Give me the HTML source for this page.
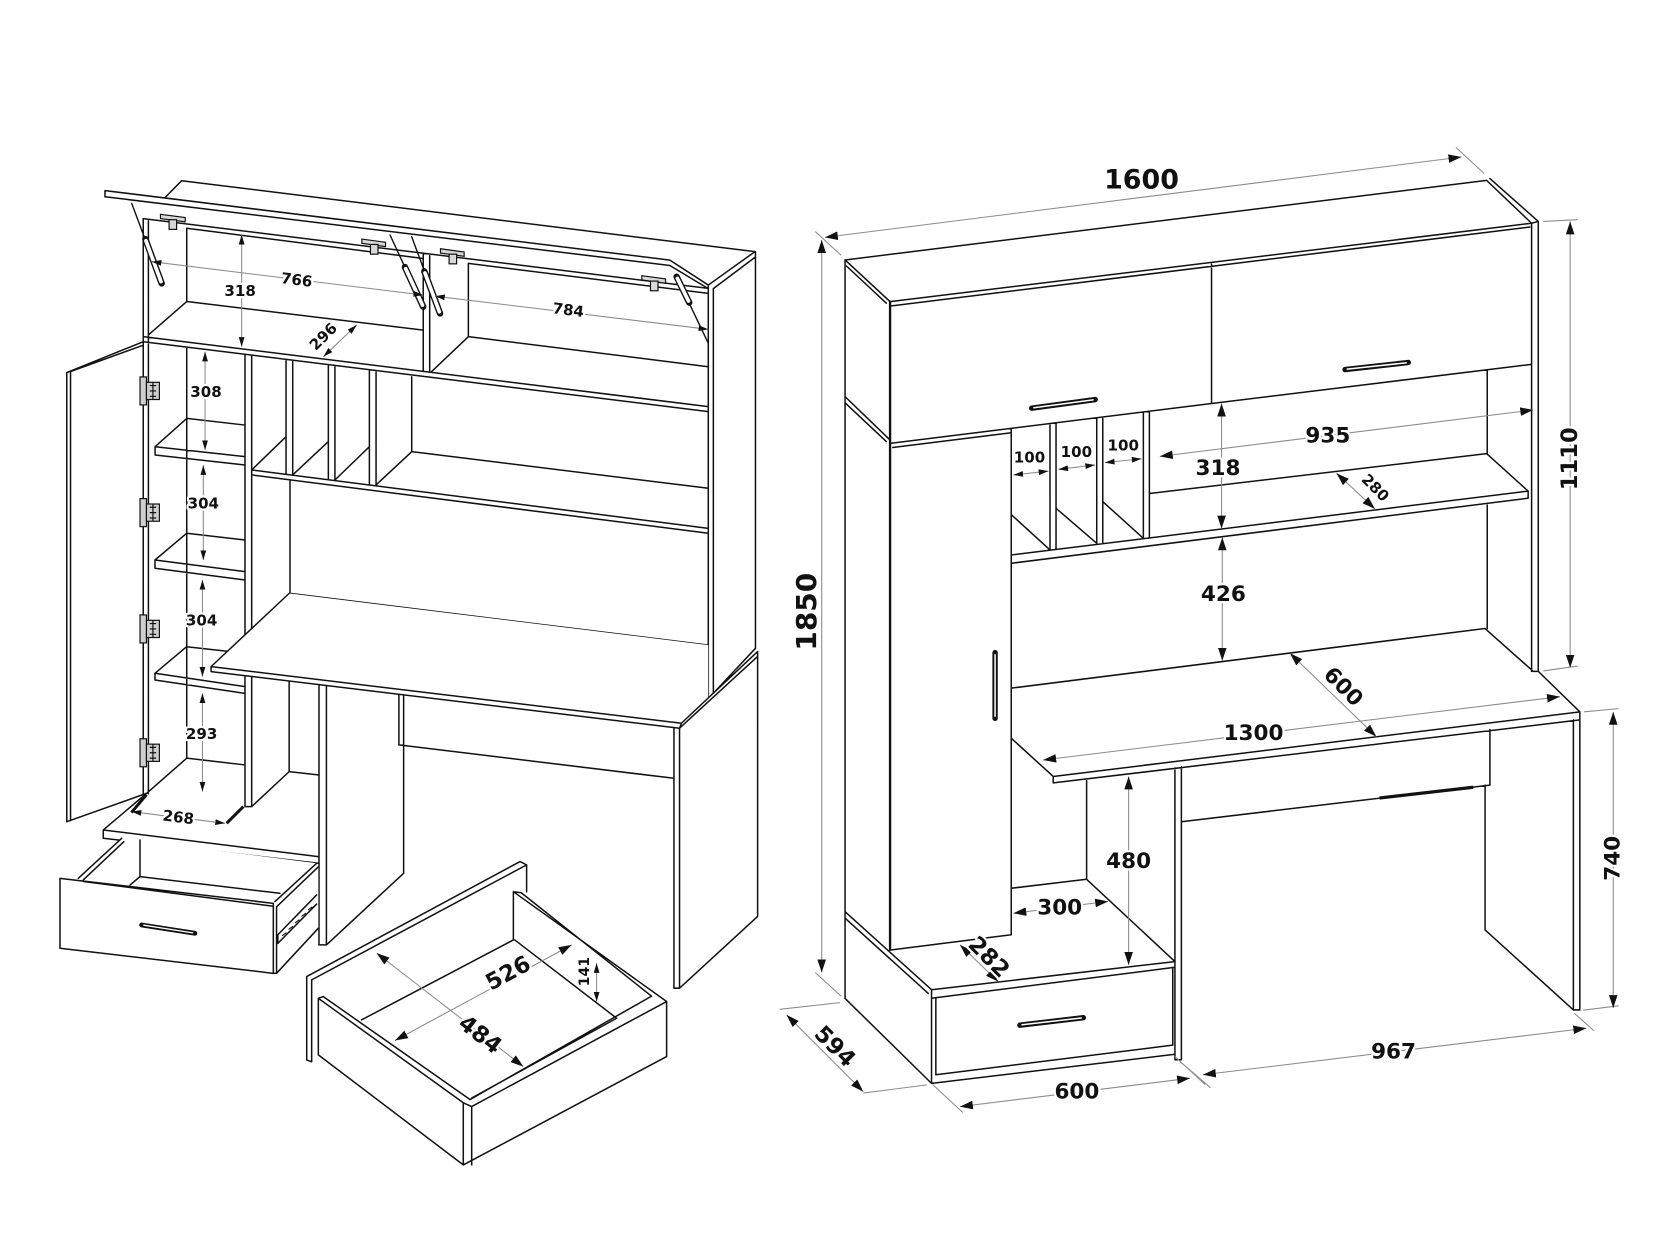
<!DOCTYPE html>
<html>
<head>
<meta charset="utf-8">
<style>
html,body{margin:0;padding:0;background:#fff;}
svg{display:block;}
.k{stroke:#111;stroke-width:1.4;fill:none;stroke-linecap:round;stroke-linejoin:round;}
.k2{stroke:#111;stroke-width:2.2;fill:none;stroke-linecap:round;}
.d{stroke:#8c8c8c;stroke-width:1;fill:none;}
.ds{stroke:#8c8c8c;stroke-width:1;fill:none;}
.t{font-family:"DejaVu Sans","Liberation Sans",sans-serif;font-weight:bold;fill:#111;text-anchor:middle;dominant-baseline:central;stroke:#fff;stroke-width:4;paint-order:stroke;stroke-linejoin:round;}
</style>
</head>
<body>
<svg width="1680" height="1260" viewBox="0 0 1560 1170" xmlns="http://www.w3.org/2000/svg">
<defs>
<marker id="a" viewBox="0 0 12 8" refX="12" refY="4" markerWidth="12" markerHeight="8" markerUnits="userSpaceOnUse" orient="auto-start-reverse"><path d="M0,0L12,4L0,8z" fill="#111"/></marker>
<marker id="b" viewBox="0 0 10 6" refX="10" refY="3" markerWidth="9" markerHeight="6" markerUnits="userSpaceOnUse" orient="auto-start-reverse"><path d="M0,0L10,3L0,6z" fill="#111"/></marker>
</defs>
<rect width="1560" height="1170" fill="#fff"/>

<!-- ================= RIGHT DRAWING ================= -->
<g class="k">
<path d="M784.7,241.4 L1380.4,167.5 M784.7,241.4 L826.5,280.1 M786,247 L823,281.5
M1380.4,167.5 L1422.2,207.3 M1383.5,165.8 L1428.4,205.6
M826.5,280.1 L1422.2,207.3 M828,284 L1420.6,210.8 M1422.2,207.3 L1428.4,205.6
M784.7,241.4 L784.7,927
M784.7,368.3 L826.5,408.6 M784.7,374 L823,410
M826.5,411.7 L1125,374.7 L1422.2,338.3 M829,415.5 L939,401.8
M1125,243.8 L1125,374.7
M1422.2,207.3 L1422.2,623.4 M1428.4,205.6 L1428.4,623.4 M1422.2,623.4 L1428.4,623.4
M939,397.8 L939,868 M828,882 L939,868
M975,393.3 L975,510.7 M980.6,392.6 L980.6,510
M1018.4,388 L1018.4,505.4 M1024,387.3 L1024,504.7
M1061.7,382.6 L1061.7,499.9 M1067.3,381.9 L1067.3,499.2
M939.4,478.2 L975,510.7 M980.6,472 L1018.4,504.5 M1024,465.8 L1061.7,499.9
M939.4,515.3 L1419,456 M939.4,523 L1419,462.6 M1419,456 L1419,462.6
M1067.3,458.3 L1380.4,421.2 L1419,456
M1381,343.3 L1381,421.2 M1381,467.3 L1381,583.6
M939,639 L1378.9,583.6 L1423.7,623.4
M939,685.5 L978,721 M978,721 L978,727 M978,721 L1467,661 M978,727 L1467,668.5 M1467,661 L1467,668.5 M1428.4,623.4 L1467,661
M1091,713 L1091,984 M1097,712 L1097,984 M1091,984 L1097,984
M1097,763 L1383.5,729 M1383.5,677.4 L1383.5,729 M1379,729 L1379,863.5 L1461,937.8
M1461,668.5 L1461,937.8 M1467,668.5 L1467,937.8 M1461,937.8 L1467,937.8
M1009,723 L1009,816.5 L939,824.8 M1009,816.5 L1091,892.9
M784.6,846.5 L865,919 M784.6,852.5 L862,922.5
M865,919 L1091,892.9 M865,927 L1091,898.2
M865,919 L865,1006 M869,927 L869,998
M869,998 L1089,970.5 M1089,898.5 L1089,970.5
M865,1006 L1091,979 M784.6,927 L865,1006"/>
</g>
<path class="k2" d="M826.5,280.1 L826.5,882"/>
<path d="M1281,741 L1368,731" stroke="#111" stroke-width="3" fill="none"/>
<!-- handles -->
<g stroke-linecap="round">
<line x1="958" y1="379" x2="1017" y2="371" stroke="#111" stroke-width="5"/><line x1="960" y1="378.6" x2="1015" y2="371.3" stroke="#fff" stroke-width="1.4"/>
<line x1="1249" y1="343.2" x2="1307.7" y2="336.6" stroke="#111" stroke-width="5"/><line x1="1251" y1="342.8" x2="1305.7" y2="336.9" stroke="#fff" stroke-width="1.4"/>
<line x1="947" y1="952" x2="1006" y2="945" stroke="#111" stroke-width="5"/><line x1="949" y1="951.6" x2="1004" y2="945.3" stroke="#fff" stroke-width="1.4"/>
<line x1="924" y1="606" x2="924" y2="667" stroke="#111" stroke-width="5"/><line x1="924" y1="608" x2="924" y2="665" stroke="#fff" stroke-width="1.4"/>
</g>

<!-- right dimensions -->
<g class="d">
<path d="M757,215 L781,237 M1352,137 L1378,161 M757,903 L781,925
M1433,205.6 L1465,204 M1433,623 L1465,618.5
M1471,661 L1503,658 M1470,938 L1503,934
M1462,941 L1480,957 M1096,986 L1124,1010
M866,1007 L894,1033 M1091,981 L1119,1007
M780,931 L724,937.2 M801.6,1015 L860.5,1007.4"/>
</g>
<g class="d" marker-start="url(#a)" marker-end="url(#a)">
<path d="M766,220.4 L1357,145.8"/>
<path d="M763,222.9 L763,903"/>
<path d="M1458,205.6 L1458,620"/>
<path d="M1498,661 L1498,936"/>
<path d="M1117,998 L1473,954.8"/>
<path d="M891.4,1027.6 L1105,1001.2"/>
<path d="M730.4,942.4 L801.6,1013.6"/>
<path d="M891.4,877.4 L927,911.5"/>
<path d="M941,848 L1029,837"/>
<path d="M1048,721 L1048,896"/>
<path d="M968.7,705.7 L1448.5,646.9"/>
<path d="M1197.8,606.6 L1278,684"/>
<path d="M1135,499 L1135,613.5"/>
<path d="M1134.3,374.7 L1134.3,490.8"/>
<path d="M1077,423.8 L1423.7,380.7"/>
<path d="M1241,439.4 L1276.7,472.5"/>
</g>
<g class="d" marker-start="url(#b)" marker-end="url(#b)">
<path d="M941,441 L973.5,437.5"/>
<path d="M982.8,435.8 L1016.8,431.8"/>
<path d="M1026,429.6 L1060,426"/>
</g>
<g class="t">
<text x="1060" y="167" font-size="25">1600</text>
<text x="749" y="568" font-size="26" transform="rotate(-90 749 568)">1850</text>
<text x="1458" y="426" font-size="21" transform="rotate(-90 1458 426)">1110</text>
<text x="1498" y="797" font-size="20" transform="rotate(-90 1498 797)">740</text>
<text x="1294" y="977" font-size="20">967</text>
<text x="1000" y="1014" font-size="20">600</text>
<text x="775" y="972" font-size="21" transform="rotate(45 775 972)">594</text>
<text x="918" y="889" font-size="21" transform="rotate(45 918 889)">282</text>
<text x="984" y="843" font-size="20">300</text>
<text x="1048" y="800" font-size="20">480</text>
<text x="1164" y="681" font-size="20">1300</text>
<text x="1247" y="638" font-size="20" transform="rotate(45 1247 638)">600</text>
<text x="1136" y="552" font-size="20">426</text>
<text x="1131" y="435" font-size="20">318</text>
<text x="1233" y="405" font-size="20">935</text>
<text x="1277" y="453" font-size="14" transform="rotate(45 1277 453)">280</text>
<text x="956" y="425" font-size="14">100</text>
<text x="999.5" y="419.5" font-size="14">100</text>
<text x="1043" y="413.5" font-size="14">100</text>
</g>

<!-- ================= LEFT DRAWING ================= -->
<g class="k">
<path d="M168.7,167.8 L701,233.7 M168.7,167.8 L153.2,183.5
M97.5,177 L622,241.5 L657.7,264.7 M97.5,182.7 L622,246.5 L657.7,268 M97.5,177 L97.5,182.7
M701,233.7 L657.7,264.7 M701,239 L662.4,268
M701.5,233.7 L701.5,602
M657.7,264.7 L657.7,648 M662.4,268 L662.4,643.7
M133,203 L657.7,267.8
M133,203 L133,737 M137.8,205 L137.8,737
M173.4,212 L173.4,280 M173.4,212 L393,240 M434.9,244.6 L657.7,272.4
M173.4,280 L393,306.5 M434.9,312.6 L657.7,340.5
M173.4,280 L137.8,311 M434.9,312.6 L400.8,345
M434.9,244.6 L434.9,312.6
M393,235 L393,345 M399,235.7 L399,345.5
M133,312.6 L657.7,377.6 M133,317.3 L657.7,382.2
M227.5,329.7 L227.5,749 M233.7,330.5 L233.7,749 M227.5,749 L233.7,749
M265.6,335 L265.6,440.5 M271.8,335.7 L271.8,441.3 M304.9,339.7 L304.9,445.5 M311,340.5 L311,446.3 M343,344.3 L343,450.3 M349.2,345 L349.2,451
M233.7,436.4 L265.6,405.5 M271.8,441 L304.9,410 M311,445.7 L343,414.8 M349.2,450.3 L382.3,419.4
M382.3,349.8 L382.3,419.4 L657.7,453.4
M233.7,436.4 L657.7,490.6 M233.7,441 L657.7,495.2
M269.3,445.7 L269.3,551 L657.7,599
M173.4,322.3 L173.4,704 L227.5,710.3 M173.4,704 L136.2,736.6
M173.4,388.5 L227.5,394.7 M173.4,388.5 L144,414.8 L227.5,424 M144,414.8 L144,422.5 L227.5,431.8
M173.3,495.2 L227.5,501.4 M173.3,495.2 L143.9,520 L227.5,530.8 M143.9,520 L143.9,527.7 L227.5,538.6
M173.3,600.5 L227.5,606.6 M173.3,600.5 L143.9,625.2 L227.5,637.6 M143.9,625.2 L143.9,631.4 L227.5,643.8
M268.5,628 L268.5,716.5 L296.2,719.6 M233.7,749 L268.5,716.5
M95.9,770.7 L295.5,795.4 M95.9,778.4 L295.5,801.6 M95.9,770.7 L95.9,778.4 M95.9,770.7 L136.2,736.6
M62,346 L133,317.3 M65.5,345 L133,320.5 M62,346 L62,763 L136.2,736.6 M65.5,345 L65.5,762"/>
</g>
<!-- desk top (occluding) -->
<polygon points="196,619 268.5,551 657.7,599 657.7,648 703.5,605 703.5,613 631,676.2 196,623.6" fill="#fff"/>
<g class="k">
<path d="M268.5,551 L196,619 L632.7,671.6 L703.5,605 M196,619 L196,623.6 L631,676.2 L703.5,609.5 M632.7,671.6 L631,676.2
M662.4,643.7 L701.5,602
M296.2,636.5 L296.2,877.4 L303.1,877.4 L303.1,637.3
M374.8,691.7 L374.8,810.9 L303.1,877.4
M370.4,644.8 L370.4,691.7 M374.8,645.3 L374.8,691.7 M370.4,691.7 L625.8,722.7
M625.8,675.7 L625.8,917.6 L631,917.6 L631,676.2 M631,917.6 L703.5,851 L703.5,605"/>
</g>
<!-- pulled drawer left -->
<polygon points="55.7,815.6 72.7,815.6 113,778.4 294,801.6 295.5,805 295.5,862 256.8,903.8 55.7,880.5" fill="#fff"/>
<g class="k">
<path d="M55.7,815.6 L253.8,838.8 L253.8,903.8 L55.7,880.5 Z M256.8,842 L256.8,903.8 L253.8,903.8
M72.7,815.6 L113,778.4 M77.4,817 L115,781.6 M77.4,818.5 L253.8,841.5
M255.3,837.2 L294,801.6 M256.8,842 L295.5,805
M130,780 L130,814 L259.9,829.5 M130,814 L120.7,821.8
M256.8,903.8 L295.5,862
M258,868 L294,831 M258,876 L294,839.5 M258,868 L258,876"/>
</g>
<path d="M262,869 L266,866 M268,863 L272,860 M274,857 L278,854 M280,851 L284,848 M286,845 L290,842" stroke="#111" stroke-width="1" fill="none"/>
<g stroke-linecap="round">
<line x1="131.5" y1="858.9" x2="181" y2="866.6" stroke="#111" stroke-width="4.5"/><line x1="133.5" y1="859.1" x2="179" y2="866.2" stroke="#fff" stroke-width="1.2"/>
</g>

<!-- door hinges -->
<g fill="#cfcfcf" stroke="#111" stroke-width="1.1">
<rect x="130" y="350" width="6" height="26"/><rect x="136" y="355" width="12" height="16"/><path d="M139,358 L145,358 M139,363 L145,363 M139,368 L145,368 M142,355 L142,371" fill="none"/>
<rect x="130" y="463" width="6" height="26"/><rect x="136" y="468" width="12" height="16"/><path d="M139,471 L145,471 M139,476 L145,476 M139,481 L145,481 M142,468 L142,484" fill="none"/>
<rect x="130" y="571" width="6" height="26"/><rect x="136" y="576" width="12" height="16"/><path d="M139,579 L145,579 M139,584 L145,584 M139,589 L145,589 M142,576 L142,592" fill="none"/>
<rect x="130" y="686" width="6" height="26"/><rect x="136" y="691" width="12" height="16"/><path d="M139,694 L145,694 M139,699 L145,699 M139,704 L145,704 M142,691 L142,707" fill="none"/>
</g>
<!-- lid hinges -->
<g fill="#d8d8d8" stroke="#111" stroke-width="1.1">
<polygon points="149,199 172,202 172,206 149,203"/><rect x="157" y="204" width="7" height="9"/>
<polygon points="336,222 358,225 358,229 336,226"/><rect x="344" y="227" width="7" height="9"/>
<polygon points="409,231 431,234 431,238 409,235"/><rect x="417" y="236" width="7" height="9"/>
<polygon points="596,256 618,259 618,263 596,260"/><rect x="604" y="261" width="7" height="9"/>
</g>
<!-- gas struts -->
<g stroke-linecap="round" fill="none">
<line x1="122.3" y1="188.9" x2="150.1" y2="263.1" stroke="#111" stroke-width="1.3"/>
<line x1="135" y1="222" x2="150.1" y2="263.1" stroke="#111" stroke-width="6"/><line x1="135.5" y1="223.5" x2="149.5" y2="261.5" stroke="#fff" stroke-width="3.4"/>
<line x1="362.2" y1="218.3" x2="393" y2="284.8" stroke="#111" stroke-width="1.3"/>
<line x1="376" y1="248" x2="393" y2="284.8" stroke="#111" stroke-width="6"/><line x1="376.7" y1="249.5" x2="392.3" y2="283.3" stroke="#fff" stroke-width="3.4"/>
<line x1="382.3" y1="219.8" x2="408.6" y2="291" stroke="#111" stroke-width="1.3"/>
<line x1="394" y1="252" x2="408.6" y2="291" stroke="#111" stroke-width="6"/><line x1="394.6" y1="253.5" x2="408" y2="289.5" stroke="#fff" stroke-width="3.4"/>
<line x1="628.3" y1="257" x2="657.7" y2="318.8" stroke="#111" stroke-width="1.3"/>
<line x1="628.3" y1="257" x2="640" y2="281" stroke="#111" stroke-width="6"/><line x1="629" y1="258.5" x2="639.3" y2="279.5" stroke="#fff" stroke-width="3.4"/>
</g>

<!-- separate drawer -->
<g class="k">
<path d="M284.8,906.8 L482.9,800 L489,803.1 L489,828 M289.4,909.9 L489,803.1 M284.8,906.8 L284.8,984.2 L289.4,986 L289.4,909.9
M476.7,828 L619,930 M484,829 L605,925 M476.7,828 L476.7,872.8 M478,872.8 L572.6,945.5 M476.7,828 L484,829
M335.8,947 L476.7,872.8
M572.6,945.5 L438,1019.6
M295.6,927 L430.2,1024 M300.2,925.4 L436.4,1021 M295.6,927 L300.2,925.4 M295.6,927 L295.6,979.5 L430.2,1081.7
M430.2,1024 L430.2,1081.7 M438,1027.5 L438,1081.7 M430.2,1024 L438,1027.5 M438,1027.5 L619,930 M436.4,1021 L605,925 M430.2,1081.7 L619,981.1 M619,930 L619,981.1"/>
</g>

<!-- left dimensions -->
<g class="ds" marker-start="url(#b)" marker-end="url(#b)">
<path d="M224.4,218 L224.4,322"/>
<path d="M140.9,243 L393,274"/>
<path d="M404,275 L657.7,305.8"/>
<path d="M300.3,331.2 L331.2,301.8"/>
<path d="M190.4,326.6 L190.4,417.9"/>
<path d="M188.8,432 L188.8,520"/>
<path d="M188,538.5 L188,628.3"/>
<path d="M188,643.8 L188,735"/>
<path d="M122.2,753.7 L208.9,764.5"/>
<path d="M554,894.4 L554,930"/>
</g>
<g class="d" marker-start="url(#a)" marker-end="url(#a)">
<path d="M366.8,966.2 L530.8,877.4"/>
<path d="M349.8,885.1 L486,990.4"/>
</g>
<path d="M122,754.5 L136,738 M210.4,764.5 L226,749" stroke="#111" stroke-width="2.8" fill="none"/>
<g class="t">
<text x="223" y="270" font-size="14">318</text>
<text x="275.5" y="260" font-size="14" transform="rotate(7 275.5 260)">766</text>
<text x="527.7" y="288" font-size="14" transform="rotate(7 527.7 288)">784</text>
<text x="300.3" y="312.6" font-size="14" transform="rotate(-45 300.3 312.6)">296</text>
<text x="191.3" y="364" font-size="14">308</text>
<text x="188.8" y="467.5" font-size="14">304</text>
<text x="187.2" y="576" font-size="14">304</text>
<text x="187.2" y="681.5" font-size="14">293</text>
<text x="165.6" y="759" font-size="14" transform="rotate(7 165.6 759)">268</text>
<text x="472" y="904" font-size="21" transform="rotate(-28.4 472 904)">526</text>
<text x="445.7" y="961" font-size="21" transform="rotate(37.7 445.7 961)">484</text>
<text x="543.2" y="902.2" font-size="13" transform="rotate(-90 543.2 902.2)">141</text>
</g>
</svg>
</body>
</html>
